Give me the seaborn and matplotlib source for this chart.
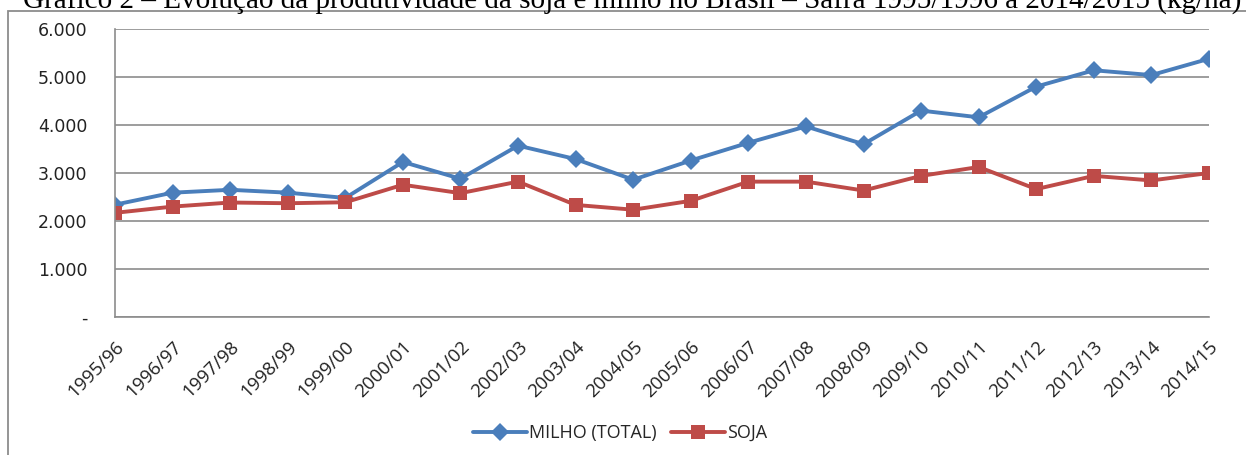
import pandas as pd
import numpy as np
import seaborn as sns
import matplotlib.pyplot as plt
from matplotlib.patches import Rectangle
from matplotlib.ticker import FuncFormatter

# safras 1995/96 a 2014/15 - produtividade em kg/ha
safras = ['1995/96', '1996/97', '1997/98', '1998/99', '1999/00', '2000/01', '2001/02',
          '2002/03', '2003/04', '2004/05', '2005/06', '2006/07', '2007/08', '2008/09',
          '2009/10', '2010/11', '2011/12', '2012/13', '2013/14', '2014/15']
milho = [2340, 2590, 2650, 2590, 2480, 3230, 2880, 3570, 3290, 2860,
         3260, 3630, 3970, 3600, 4300, 4160, 4800, 5140, 5040, 5380]
soja = [2170, 2300, 2385, 2370, 2390, 2755, 2580, 2820, 2335, 2235,
        2420, 2820, 2820, 2635, 2940, 3125, 2665, 2940, 2845, 3000]
series = ['MILHO (TOTAL)', 'SOJA']
titulo = ('Gráfico 2 – Evolução da produtividade da soja e milho no Brasil – '
          'Safra 1995/1996 a 2014/2015 (kg/ha)')

df = pd.DataFrame({
    'pos': list(range(len(safras))) * 2,
    'valor': milho + soja,
    'serie': [series[0]] * len(milho) + [series[1]] * len(soja),
})

sns.set_style('white')
plt.rcParams['font.family'] = ['DejaVu Sans']

fig = plt.figure(figsize=(12.46, 4.55), dpi=100)
ax = fig.add_axes([115 / 1246, 138 / 455, 1094 / 1246, 288 / 455])

sns.lineplot(data=df, x='pos', y='valor', hue='serie', style='serie',
             palette={series[0]: '#4A7EBB', series[1]: '#BE4B48'},
             markers={series[0]: 'D', series[1]: 's'}, dashes=False,
             linewidth=2.8, markersize=9.5, markeredgewidth=0, ax=ax)

ax.set_xlim(0, len(safras) - 1)
ax.set_ylim(0, 6000)
ax.set_yticks(np.arange(0, 6001, 1000))
ax.yaxis.set_major_formatter(FuncFormatter(lambda v, p: '-' if v == 0 else f'{int(v):,}'.replace(',', '.')))
ax.set_xticks(range(len(safras)))
ax.set_xticklabels(safras, rotation=45, ha='right', rotation_mode='anchor',
                   fontsize=13.5, family='Open Sans', color='#222222')
ax.tick_params(axis='y', labelsize=12.5, colors='#222222', pad=20, length=0)
ax.tick_params(axis='x', length=0, pad=15)
ax.set_xlabel('')
ax.set_ylabel('')
ax.grid(axis='y', color='#8c8c8c', linewidth=1.2)
for s in ['top', 'right']:
    ax.spines[s].set_visible(False)
for s in ['left', 'bottom']:
    ax.spines[s].set_color('#8c8c8c')
    ax.spines[s].set_linewidth(1.2)

leg = ax.legend(loc='center', bbox_to_anchor=(620 / 1246, 22 / 455),
                bbox_transform=fig.transFigure, ncol=2, frameon=False,
                handlelength=3.0, columnspacing=0.8, handletextpad=0.1,
                prop={'family': 'Open Sans', 'size': 13})

# moldura do gráfico (apenas bordas esquerda e superior visíveis)
fig.add_artist(Rectangle((8 / 1246, -0.2), 1.2, 0.2 + (455 - 11) / 455,
                         transform=fig.transFigure, fill=False,
                         edgecolor='#8c8c8c', linewidth=1.3))

# título cortado no topo, como no original
fig.text(632 / 1246, 1 - 8 / 455, titulo, ha='center', va='baseline',
         family='Liberation Serif', fontsize=21, color='black')

fig.savefig('out.png', dpi=100)
